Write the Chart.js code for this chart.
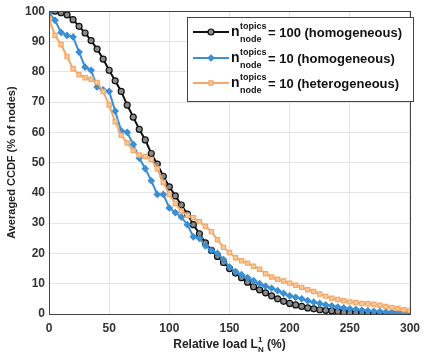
<!DOCTYPE html>
<html>
<head>
<meta charset="utf-8">
<script src="https://cdn.jsdelivr.net/npm/chart.js@4/dist/chart.umd.min.js"></script>
<style>
  html, body { margin: 0; padding: 0; background: #fff; }
  #wrap { width: 427px; height: 360px; }
</style>
</head>
<body>
<div id="wrap"><canvas id="chart" width="427" height="360"></canvas></div>
<script>
// relative load L_N^1 (%)
var loads = [0, 5, 10, 15, 20, 25, 30, 35, 40, 45, 50, 55, 60, 65, 70, 75, 80, 85, 90, 95,
    100, 105, 110, 115, 120, 125, 130, 135, 140, 145, 150, 155, 160, 165, 170, 175, 180, 185, 190, 195,
    200, 205, 210, 215, 220, 225, 230, 235, 240, 245, 250, 255, 260, 265, 270, 275, 280, 285, 290, 295, 300];

// n = 100 topics per node, homogeneous
var homog100 = [100, 100, 99.5, 98.8, 97.2, 95, 92.8, 90.3, 87.5, 84.2, 80.5, 77, 73.5, 69, 65, 61, 57.5, 53, 49.5, 45.5,
    42, 39, 36, 33, 29.5, 26.5, 23.5, 21, 19, 17, 15, 13.5, 12, 10.5, 9, 8, 7, 6, 5, 4.2,
    3.5, 3, 2.5, 2, 1.7, 1.4, 1.2, 1, 0.8, 0.6, 0.5, 0.4, 0.3, 0.25, 0.2, 0.15, 0.1, 0.1, 0.05, 0, 0];

// n = 10 topics per node, homogeneous
var homog10 = [99.5, 97, 93, 92, 91.5, 86.5, 81.5, 80.5, 75, 74, 73.5, 67, 60.5, 60, 56, 51.5, 48, 44, 39.5, 39.5,
    35, 33.5, 32, 29.5, 25.5, 25, 22.5, 21, 20, 18, 15.5, 14, 13, 12, 11, 10, 9.2, 8.5, 7.7, 6.8,
    6, 5.5, 5, 4.4, 3.9, 3.5, 3, 2.7, 2.3, 2, 1.7, 1.5, 1.3, 1.1, 0.9, 0.8, 0.6, 0.5, 0.4, 0.3, 0.3];

// n = 10 topics per node, heterogeneous
var heterog10 = [97.5, 92, 89, 85, 81, 79, 78, 77.5, 76.5, 73.5, 69, 63.5, 59, 56.5, 54, 52.5, 52, 51, 48, 43.5,
    39.5, 36.5, 34, 32.5, 31.8, 30.5, 29, 27.2, 24.5, 22, 20.3, 18.6, 17.6, 16.8, 15.8, 14.8, 13.3, 12.2, 11.5, 10.9,
    10.2, 9.5, 8.8, 8, 7.4, 6.6, 5.9, 5.2, 4.8, 4.4, 4, 3.8, 3.5, 3.4, 3.2, 2.9, 2.5, 2.1, 1.8, 1.4, 1.2];

var legendValues = ['= 100 (homogeneous)', '= 10 (homogeneous)', '= 10 (heterogeneous)'];

var FONT = '"Liberation Sans", Arial, sans-serif';

function toPoints(ys) {
    var pts = [];
    for (let i = 0; i < loads.length; i++) {
        pts.push({ x: loads[i], y: ys[i] });
    }
    return pts;
}

var series = [
    { data: homog100, line: '#111111', fill: '#8a8a8a', style: 'circle', order: 3 },
    { data: homog10, line: '#3b8fd2', fill: '#3b8fd2', style: 'rectRot', order: 2 },
    { data: heterog10, line: '#f5a865', fill: '#f9c999', style: 'rect', order: 1 },
];

// legend box, axis titles and the closed frame
var decorations = {
    id: 'decorations',
    afterDraw(chart) {
        var ctx = chart.ctx;
        var a = chart.chartArea;
        ctx.save();
        ctx.strokeStyle = '#444';
        ctx.lineWidth = 1;
        ctx.strokeRect(Math.round(a.left) + 0.5, Math.round(a.top) + 0.5,
            Math.round(a.right - a.left), Math.round(a.bottom - a.top));

        // y title
        ctx.fillStyle = '#222';
        ctx.font = 'bold 11px ' + FONT;
        ctx.textAlign = 'center';
        ctx.textBaseline = 'middle';
        ctx.save();
        ctx.translate(12, (a.top + a.bottom) / 2);
        ctx.rotate(-Math.PI / 2);
        ctx.fillText('Averaged CCDF (% of nodes)', 0, 0);
        ctx.restore();

        // x title: Relative load L_N^1 (%)
        var cx = (a.left + a.right) / 2;
        var y = 348;
        ctx.textBaseline = 'alphabetic';
        ctx.textAlign = 'left';
        var p1 = 'Relative load L';
        var p2 = ' (%)';
        ctx.font = 'bold 8px ' + FONT;
        var wSub = ctx.measureText('N').width;
        ctx.font = 'bold 12px ' + FONT;
        var total = ctx.measureText(p1).width + wSub + ctx.measureText(p2).width;
        var x = cx - total / 2;
        ctx.fillText(p1, x, y);
        x += ctx.measureText(p1).width;
        ctx.font = 'bold 8px ' + FONT;
        ctx.fillText('1', x, y - 6);
        ctx.fillText('N', x, y + 4);
        x += wSub;
        ctx.font = 'bold 12px ' + FONT;
        ctx.fillText(p2, x, y);

        // legend
        var bx = 187, by = 17, bw = 226, bh = 84;
        ctx.fillStyle = '#fff';
        ctx.fillRect(bx, by, bw, bh);
        ctx.strokeStyle = '#444';
        ctx.lineWidth = 1;
        ctx.strokeRect(bx + 0.5, by + 0.5, bw, bh);
        var rows = [32, 58, 83];
        for (let i = 0; i < series.length; i++) {
            var s = series[i];
            var ry = rows[i];
            ctx.strokeStyle = s.line;
            ctx.lineWidth = 2;
            ctx.beginPath();
            ctx.moveTo(193, ry);
            ctx.lineTo(229, ry);
            ctx.stroke();
            ctx.save();
            ctx.lineWidth = 1.2;
            ctx.fillStyle = s.fill;
            ctx.strokeStyle = s.line;
            Chart.helpers.drawPoint(ctx, { pointStyle: s.style, radius: 3, rotation: 0, borderWidth: 1.2 }, 211, ry);
            ctx.restore();

            ctx.fillStyle = '#111';
            ctx.font = 'bold 14px ' + FONT;
            ctx.fillText('n', 231, ry + 4);
            ctx.font = 'bold 9px ' + FONT;
            ctx.fillText('topics', 240, ry - 3);
            ctx.fillText('node', 240, ry + 10);
            ctx.font = 'bold 13px ' + FONT;
            ctx.fillText(legendValues[i], 268, ry + 5);
        }
        ctx.restore();
    }
};

var datasets = series.map(function (s) {
    return {
        data: toPoints(s.data),
        borderColor: s.line,
        backgroundColor: s.fill,
        pointBackgroundColor: s.fill,
        pointBorderColor: s.line,
        pointStyle: s.style,
        pointRadius: 3,
        pointBorderWidth: 1.2,
        borderWidth: 2,
        tension: 0,
        order: s.order,
    };
});

new Chart(document.getElementById('chart').getContext('2d'), {
    type: 'line',
    data: { datasets: datasets },
    options: {
        responsive: false,
        animation: false,
        layout: { padding: { top: 11, right: 10, left: 0, bottom: 0 } },
        plugins: {
            legend: { display: false },
            tooltip: { enabled: false },
        },
        scales: {
            x: {
                type: 'linear',
                min: 0,
                max: 300,
                ticks: { stepSize: 50, padding: 7, color: '#333', font: { family: FONT, size: 12, weight: 'bold' } },
                grid: { color: '#e4e4e4', drawTicks: false },
                border: { color: '#444' },
                afterFit: function (s) { s.height = 46; },
            },
            y: {
                min: 0,
                max: 100,
                ticks: { stepSize: 10, padding: 4, color: '#333', font: { family: FONT, size: 12, weight: 'bold' } },
                grid: { color: '#e4e4e4', drawTicks: false },
                border: { color: '#444' },
                afterFit: function (s) { s.width = 49; },
            },
        },
    },
    plugins: [decorations],
});
</script>
</body>
</html>
